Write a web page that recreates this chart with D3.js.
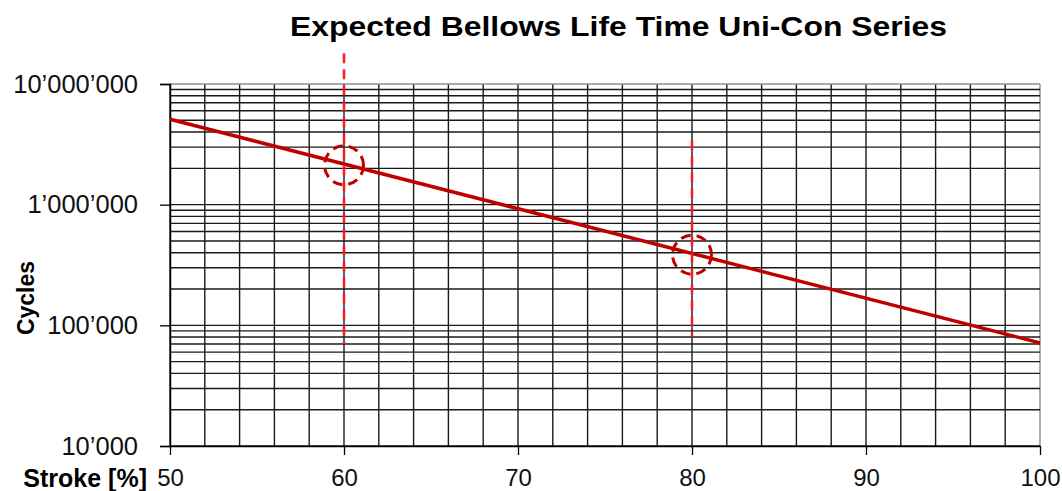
<!DOCTYPE html>
<html>
<head>
<meta charset="utf-8">
<script src="https://cdn.jsdelivr.net/npm/d3@7"></script>
<style>
  html, body { margin: 0; padding: 0; background: #fff; }
  svg { display: block; font-family: "Liberation Sans", Arial, sans-serif; }
</style>
</head>
<body>
<svg id="chart" width="1062" height="491"></svg>
<script>
// ---- data ----
const title = "Expected Bellows Life Time Uni-Con Series";
const xLabel = "Stroke [%]";
const yLabel = "Cycles";
const xTicks = [50, 60, 70, 80, 90, 100];
const yTicks = [10000, 100000, 1000000, 10000000];
const yTickLabels = ["10’000", "100’000", "1’000’000", "10’000’000"];
const lifeStroke = [50, 100];
const lifeCycles = [5100000, 71500];
const markStroke = [60, 80];
const markCycles = [2120000, 385000];
const guideTop = [18000000, 3400000];
const guideBottom = [70000, 80000];

// ---- layout ----
const W = 1062, H = 491;
const m = { left: 170, right: 22, top: 84, bottom: 45 };
const svg = d3.select("#chart");

const x = d3.scaleLinear().domain([50, 100]).range([m.left, W - m.right]);
const y = d3.scaleLog().domain([10000, 10000000]).range([H - m.bottom, m.top]);

// grid
const g = svg.append("g");
const vGrid = d3.range(50, 101, 2);
g.selectAll("line.v").data(vGrid).join("line")
  .attr("x1", d => x(d)).attr("x2", d => x(d))
  .attr("y1", y(10000)).attr("y2", y(10000000))
  .attr("stroke", d => d === 100 ? "#8c8c8c" : "#1a1a1a").attr("stroke-width", 1.4);
const hGrid = [];
for (let e = 4; e < 7; e++) for (let k = 1; k <= 9; k++) hGrid.push(k * Math.pow(10, e));
hGrid.push(10000000);
g.selectAll("line.h").data(hGrid).join("line")
  .attr("x1", x(50)).attr("x2", x(100))
  .attr("y1", d => y(d)).attr("y2", d => y(d))
  .attr("stroke", d => d === 10000000 ? "#8c8c8c" : "#1a1a1a").attr("stroke-width", 1.4);

// axes
const yAxis = d3.axisLeft(y).tickValues(yTicks)
  .tickFormat((d, i) => yTickLabels[i]).tickSize(10).tickPadding(22);
const ya = svg.append("g").attr("transform", `translate(${m.left},0)`).call(yAxis);
ya.select(".domain").attr("stroke", "#000").attr("stroke-width", 1.5);
ya.selectAll(".tick line").attr("stroke", "#000").attr("stroke-width", 1.3);
ya.selectAll(".tick text").attr("font-size", 25.5).attr("fill", "#111")
  .attr("font-family", "Liberation Sans, Arial, sans-serif");

const xAxis = d3.axisBottom(x).tickValues(xTicks).tickSize(9).tickPadding(14).tickSizeOuter(0);
const xa = svg.append("g").attr("transform", `translate(0,${H - m.bottom})`).call(xAxis);
xa.select(".domain").attr("stroke", "#000").attr("stroke-width", 1.5);
xa.selectAll(".tick line").attr("stroke", "#000").attr("stroke-width", 1.3);
xa.selectAll(".tick text").attr("font-size", 24).attr("fill", "#111")
  .attr("font-family", "Liberation Sans, Arial, sans-serif");

// life line
const line = d3.line().x(d => x(d[0])).y(d => y(d[1]));
svg.append("path")
  .datum(lifeStroke.map((s, i) => [s, lifeCycles[i]]))
  .attr("d", line).attr("fill", "none")
  .attr("stroke", "#c00000").attr("stroke-width", 3.5);

// guides
svg.selectAll("line.guide").data(markStroke).join("line")
  .attr("x1", d => x(d)).attr("x2", d => x(d))
  .attr("y1", (d, i) => y(guideTop[i])).attr("y2", (d, i) => y(guideBottom[i]))
  .attr("stroke", "#ff1a1a").attr("stroke-width", 2.5)
  .attr("stroke-dasharray", "10,6");

// circles
svg.selectAll("circle.mk").data(markStroke).join("circle")
  .attr("cx", d => x(d)).attr("cy", (d, i) => y(markCycles[i]))
  .attr("r", 19.5)
  .attr("fill", "none").attr("stroke", "#c00000").attr("stroke-width", 3)
  .attr("stroke-dasharray", "10,6");

// title
svg.append("text").attr("x", (290 + 947) / 2).attr("y", 36)
  .attr("text-anchor", "middle").attr("font-weight", "bold")
  .attr("font-size", 28).attr("fill", "#000")
  .attr("textLength", 657).attr("lengthAdjust", "spacingAndGlyphs")
  .text(title);

// axis titles
svg.append("text").attr("x", 147).attr("y", 487)
  .attr("text-anchor", "end").attr("font-weight", "bold")
  .attr("font-size", 25).attr("fill", "#000").text(xLabel);
svg.append("text")
  .attr("transform", "translate(34,298) rotate(-90)")
  .attr("text-anchor", "middle").attr("font-weight", "bold")
  .attr("font-size", 23).attr("fill", "#000").text(yLabel);
</script>
</body>
</html>
